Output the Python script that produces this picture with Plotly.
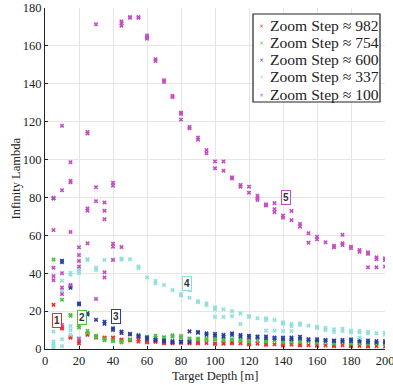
import plotly.graph_objects as go

# ---- data ----
red_x = [5, 10, 10, 15, 15, 20, 20, 25, 25, 30, 30, 35, 35, 40, 40, 45, 45, 50, 50, 55, 55,
         60, 60, 65, 65, 70, 70, 75, 75, 80, 80, 85, 85, 90, 90, 95, 100, 100, 105, 105,
         110, 110, 115, 120, 120, 125, 130, 130, 135, 140, 140, 145, 150, 150, 155, 160, 160,
         165, 170, 170, 175, 180, 180, 185, 190, 190, 195, 200]
red_y = [23.3, 11.5, 10.8, 6.5, 6.0, 4.0, 3.0, 8.0, 7.5, 6.5, 6.0, 6.0, 5.5, 6.0, 5.0, 5.0, 4.5, 5.0, 4.5, 5.0, 4.0,
         4.0, 3.5, 4.0, 3.8, 3.5, 3.0, 3.5, 3.0, 3.8, 3.2, 3.5, 3.0, 3.5, 3.0, 3.2, 3.0, 2.6, 3.2, 2.8,
         3.4, 3.0, 3.0, 2.8, 2.4, 2.8, 2.6, 2.2, 2.5, 2.2, 1.8, 2.4, 2.3, 1.9, 2.0, 2.1, 1.7,
         1.9, 1.9, 1.5, 2.0, 1.8, 1.4, 1.7, 1.7, 1.3, 1.5, 1.3]

green_x = [5, 10, 15, 15, 20, 20, 25, 25, 30, 30, 35, 35, 40, 40, 45, 45, 50, 55, 55, 60, 60,
           65, 65, 70, 70, 75, 75, 80, 80, 85, 85, 90, 90, 95, 95, 100, 100, 105, 105, 110, 110,
           115, 115, 120, 120, 125, 130, 130, 135, 140, 140, 145, 145, 150, 150, 155, 160, 160,
           165, 170, 170, 175, 180, 180, 185, 190, 190, 195, 200, 200]
green_y = [47.2, 26.0, 18.0, 17.5, 12.3, 11.4, 9.5, 8.5, 7.0, 6.4, 5.4, 4.6, 4.6, 4.1, 4.0, 3.5, 5.0, 7.4, 6.6, 6.5, 6.0,
           7.0, 6.0, 6.2, 5.8, 7.3, 6.5, 6.9, 6.0, 5.6, 5.2, 5.6, 5.0, 5.6, 5.0, 5.5, 5.0, 5.1, 4.6, 5.2, 4.8,
           5.0, 4.5, 4.5, 4.0, 4.6, 4.5, 4.0, 4.5, 4.3, 3.8, 4.5, 4.0, 4.2, 3.7, 4.0, 3.8, 3.3,
           3.6, 3.5, 3.0, 3.6, 3.5, 3.0, 3.3, 3.2, 2.8, 3.0, 3.0, 2.6]

blue_x = [5, 10, 10, 15, 15, 20, 20, 25, 25, 30, 35, 35, 40, 40, 45, 45, 50, 50, 55, 55, 60, 60,
          65, 65, 70, 70, 75, 75, 80, 80, 85, 85, 90, 90, 95, 95, 100, 100, 105, 105, 110, 110,
          115, 115, 120, 120, 125, 125, 130, 130, 135, 135, 140, 140, 145, 145, 150, 150, 155, 155,
          160, 160, 165, 165, 170, 170, 175, 175, 180, 180, 185, 185, 190, 190, 195, 195, 200, 200]
blue_y = [79.5, 46.6, 45.8, 33.2, 32.3, 24.1, 23.5, 18.9, 18.2, 15.4, 14.4, 13.3, 11.0, 10.1, 9.2, 8.4, 8.0, 7.7, 7.0, 6.5, 6.0, 5.2,
          5.0, 4.6, 4.5, 4.0, 4.2, 3.5, 4.0, 3.7, 9.3, 3.8, 9.0, 8.6, 8.3, 7.5, 8.0, 7.1, 7.5, 6.6, 8.3, 7.4,
          7.4, 6.6, 7.0, 6.2, 6.6, 6.2, 6.6, 5.7, 6.0, 5.6, 6.0, 5.2, 6.0, 5.2, 6.5, 5.6, 5.2, 4.8,
          5.2, 4.5, 4.8, 4.4, 4.5, 4.2, 4.8, 4.0, 5.1, 4.2, 4.8, 4.0, 4.5, 3.6, 4.2, 3.4, 4.2, 3.4]

cyan_x = [5, 5, 5, 5, 5, 10, 10, 10, 10, 15, 15, 15, 15, 15, 20, 20, 20, 20, 25, 25, 30, 30, 35, 40,
          45, 45, 50, 55, 55, 60, 65, 65, 70, 75, 80, 80, 85, 85, 90, 90, 95, 95, 100, 100, 100,
          105, 105, 110, 110, 115, 115, 120, 120, 125, 130, 130, 130, 135, 135, 140, 140, 140,
          145, 145, 145, 150, 150, 155, 160, 160, 165, 165, 170, 170, 175, 175, 180, 180,
          185, 185, 185, 190, 190, 195, 200, 200]
cyan_y = [9.2, 4.0, 2.6, 1.6, 0.7, 36.0, 31.0, 5.2, 1.5, 40.3, 39.2, 12.1, 10.0, 7.5, 41.8, 40.8, 40.0, 5.8, 47.5, 47.0, 43.0, 41.7, 47.0, 47.2,
          47.8, 47.2, 47.4, 43.6, 42.7, 37.8, 35.9, 34.7, 33.8, 31.1, 29.0, 28.2, 31.0, 27.1, 25.3, 24.7, 24.1, 23.2, 22.0, 21.0, 16.9,
          21.0, 16.9, 20.0, 17.4, 18.8, 13.2, 17.4, 17.0, 16.2, 16.2, 15.3, 9.7, 15.3, 9.7, 14.1, 13.2, 9.4,
          13.2, 12.1, 9.4, 13.5, 12.7, 12.3, 11.8, 11.1, 11.1, 10.0, 10.4, 9.1, 10.7, 9.5, 9.7, 8.8,
          9.5, 8.8, 6.0, 9.1, 8.3, 8.3, 8.6, 7.7]

mag_x = [5, 5, 5, 5, 5, 10, 10, 10, 10, 10, 10, 15, 15, 15, 15, 15, 20, 20, 20, 20, 20,
         25, 25, 25, 25, 25, 30, 30, 30, 30, 35, 35, 35, 35, 35, 40, 40, 40, 40, 40,
         45, 45, 45, 45, 50, 50, 55, 55, 60, 60, 60, 65, 65, 70, 70, 75, 75, 80, 80, 80,
         85, 85, 90, 90, 95, 95, 100, 100, 105, 105, 110, 110, 115, 115, 120, 120,
         125, 125, 125, 130, 130, 135, 135, 135, 140, 140, 145, 145, 150, 150, 155, 155,
         160, 160, 165, 170, 170, 175, 175, 175, 180, 180, 185, 185, 190, 190, 190,
         195, 195, 195, 200, 200, 200]
mag_y = [79.8, 62.8, 42.9, 38.5, 36.3, 117.8, 83.8, 40.0, 32.4, 29.0, 12.7, 98.6, 88.8, 88.0, 61.8, 33.8, 53.7, 49.6, 46.5, 43.5, 5.3,
         114.6, 113.8, 74.2, 73.0, 55.8, 171.4, 85.4, 78.0, 26.4, 77.3, 73.0, 68.5, 40.5, 37.8, 87.8, 86.2, 55.6, 54.0, 47.0,
         172.9, 172.0, 170.7, 53.8, 175.2, 174.8, 175.2, 174.8, 165.5, 164.5, 163.8, 153.0, 152.0, 141.9, 141.0, 133.6, 133.0, 124.8, 124.1, 121.1,
         117.2, 116.5, 111.6, 110.5, 105.0, 103.3, 99.0, 95.4, 99.0, 94.1, 90.6, 90.0, 86.6, 85.7, 85.7, 82.5,
         80.9, 79.5, 78.7, 76.4, 75.7, 77.0, 73.8, 72.2, 70.4, 69.3, 72.9, 68.0, 66.0, 64.6, 61.1, 56.1,
         59.3, 57.9, 56.3, 54.5, 53.7, 60.3, 55.8, 54.9, 54.0, 53.2, 52.3, 51.4, 51.0, 50.2, 43.1,
         48.4, 47.4, 43.1, 47.9, 47.0, 43.5]

series_names = ["Zoom Step ≈ 982", "Zoom Step ≈ 754", "Zoom Step ≈ 600",
                "Zoom Step ≈ 337", "Zoom Step ≈ 100"]
series_colors = ["#e8322e", "#4cc23c", "#2b3fa3", "#8fe0dc", "#c44ec4"]
series_x = [red_x, green_x, blue_x, cyan_x, mag_x]
series_y = [red_y, green_y, blue_y, cyan_y, mag_y]

label_text = ["1", "2", "3", "4", "5"]
label_x = [6.9, 21.6, 41.9, 83.3, 142.0]
label_y = [14.8, 16.4, 16.9, 34.7, 80.0]

x_ticks = [0, 20, 40, 60, 80, 100, 120, 140, 160, 180, 200]
y_ticks = [0, 20, 40, 60, 80, 100, 120, 140, 160, 180]
x_title = "Target Depth [m]"
y_title = "Infinity Lambda"

# ---- layout geometry (pixels) ----
W, H = 393, 385
ML, MR, MT, MB = 45, 8, 8, 36
PW, PH = W - ML - MR, H - MT - MB


def px_x(p):
    return (p - ML) / PW


def px_y(p):
    return (H - MB - p) / PH


serif = "Liberation Serif"
ink = "#222222"

# ---- figure ----
fig = go.Figure()
for name, col, xs, ys in zip(series_names, series_colors, series_x, series_y):
    fig.add_trace(go.Scatter(
        x=xs, y=ys, mode="markers", name=name, showlegend=False,
        marker=dict(symbol="x", size=4, color=col, line=dict(width=0)),
    ))

for t, lx, ly, col in zip(label_text, label_x, label_y, series_colors):
    fig.add_annotation(
        x=lx, y=ly, xref="x", yref="y", text="<b>" + t + "</b>", showarrow=False,
        font=dict(family="Liberation Sans", size=10, color="#333333"),
        bordercolor=col, borderwidth=1, borderpad=1, bgcolor="rgba(255,255,255,0.85)",
    )

# legend (box + entries)
fig.add_shape(type="rect", xref="paper", yref="paper",
              x0=px_x(253), x1=px_x(380), y0=px_y(102), y1=px_y(14),
              line=dict(color=ink, width=1.2), fillcolor="white", layer="above")
row0, row_step = 25.3, 17.2
for i, (name, col) in enumerate(zip(series_names, series_colors)):
    yc = px_y(row0 + i * row_step)
    fig.add_annotation(x=px_x(261), y=yc, xref="paper", yref="paper",
                       text="×", showarrow=False, xanchor="center", yanchor="middle",
                       font=dict(family="DejaVu Sans", size=6, color=col))
    fig.add_annotation(x=px_x(268), y=yc, xref="paper", yref="paper",
                       text=name, showarrow=False, xanchor="left", yanchor="middle",
                       font=dict(family=serif, size=15.6, color=ink))

# axis titles
fig.add_annotation(x=0.5, y=px_y(376), xref="paper", yref="paper", text=x_title,
                   showarrow=False, xanchor="center", yanchor="middle",
                   font=dict(family=serif, size=12.5, color=ink))
fig.add_annotation(x=px_x(15), y=0.5, xref="paper", yref="paper", text=y_title,
                   showarrow=False, xanchor="center", yanchor="middle", textangle=-90,
                   font=dict(family=serif, size=12.5, color=ink))

fig.update_layout(
    width=W, height=H,
    margin=dict(l=ML, r=MR, t=MT, b=MB, autoexpand=False),
    paper_bgcolor="white", plot_bgcolor="white",
    font=dict(family=serif, size=12, color=ink),
    showlegend=False,
    xaxis=dict(
        range=[0, 200], tickvals=x_ticks, ticktext=[str(v) for v in x_ticks],
        showgrid=True, gridcolor="#e6e6e6", gridwidth=1, zeroline=False,
        showline=True, linecolor=ink, linewidth=1.2,
        ticks="inside", ticklen=3, tickcolor=ink,
        tickfont=dict(family=serif, size=12.5, color=ink),
        ticklabeloverflow="allow", automargin=False,
    ),
    yaxis=dict(
        range=[0, 180], tickvals=y_ticks, ticktext=[str(v) for v in y_ticks],
        showgrid=True, gridcolor="#e6e6e6", gridwidth=1, zeroline=False,
        showline=True, linecolor=ink, linewidth=1.2,
        ticks="inside", ticklen=3, tickcolor=ink,
        tickfont=dict(family=serif, size=12.5, color=ink),
        ticklabeloverflow="allow", automargin=False,
    ),
)

fig.write_html("out.html")
